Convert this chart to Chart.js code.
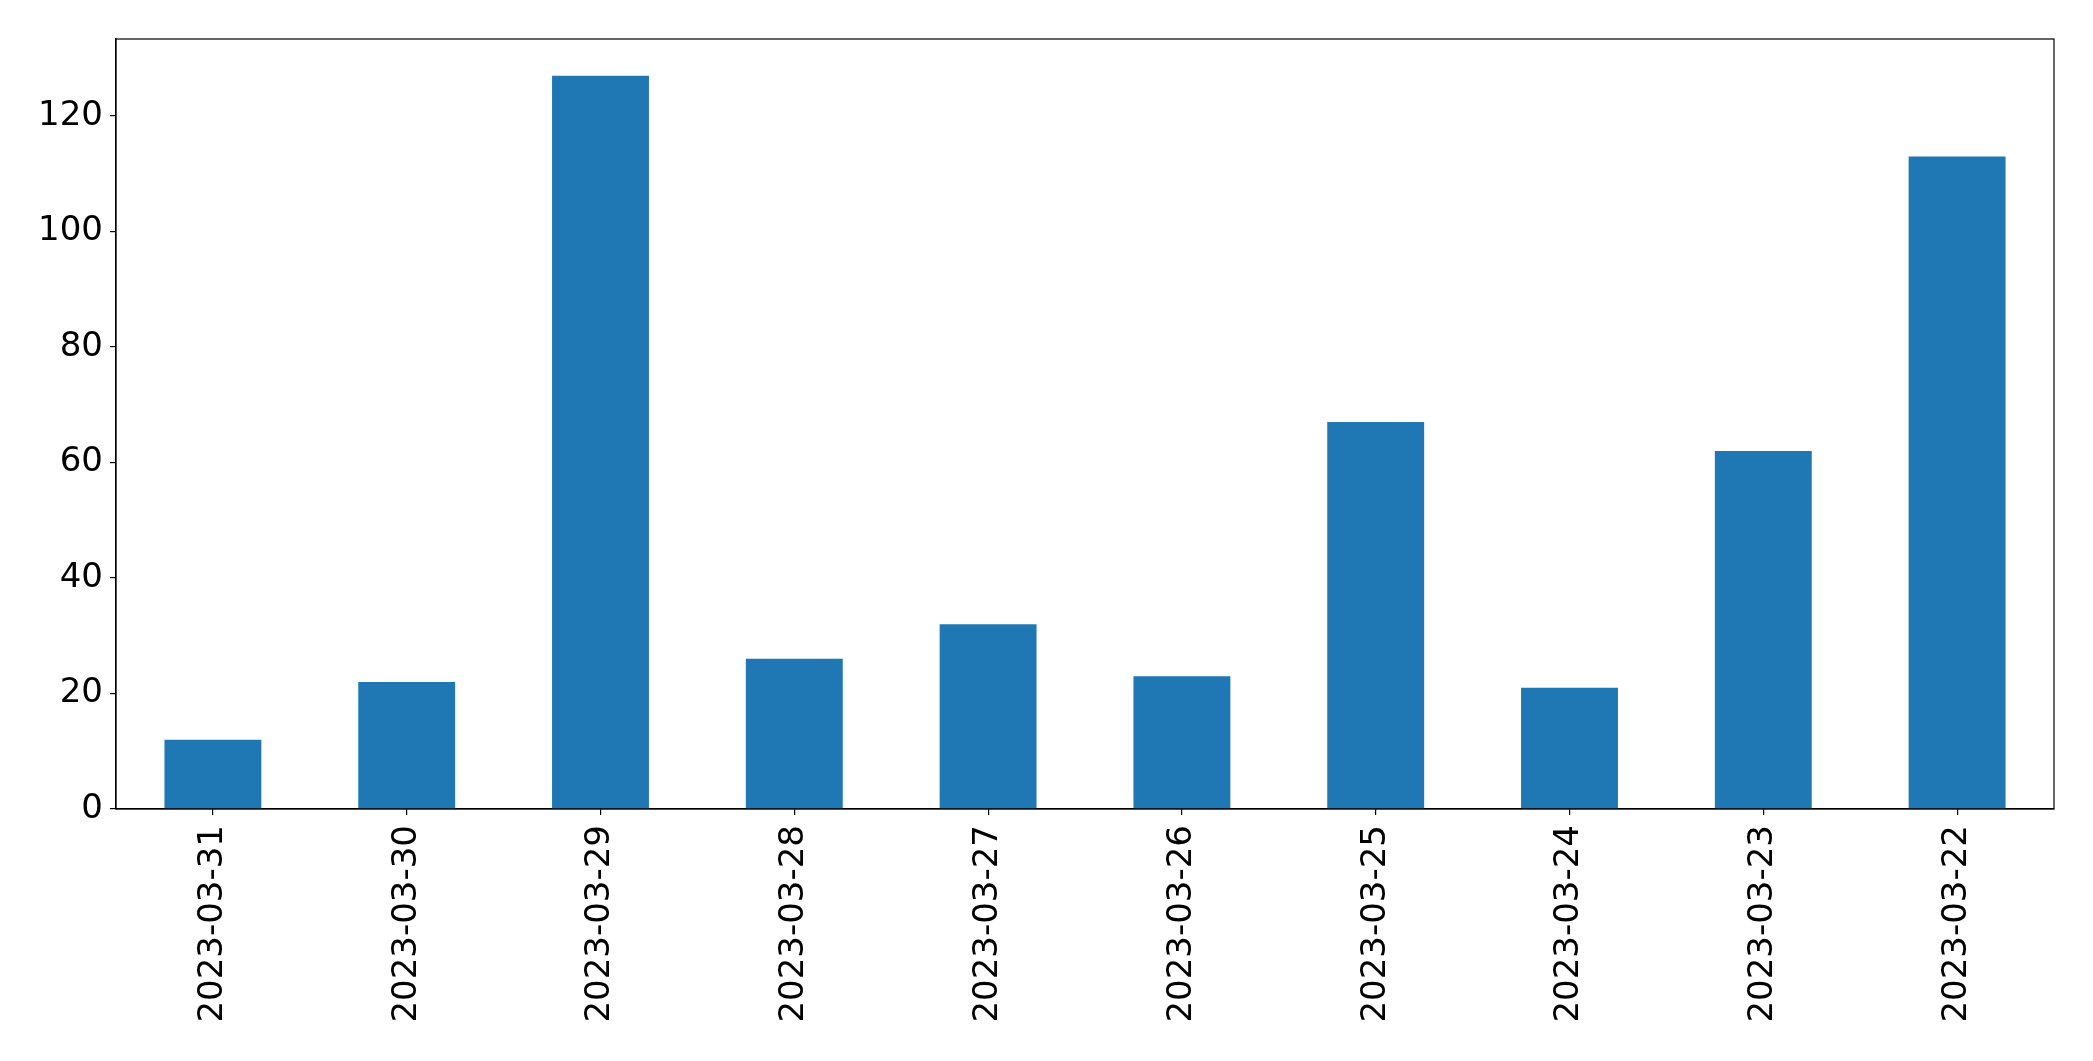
<!DOCTYPE html>
<html>
<head>
<meta charset="utf-8">
<script src="https://cdn.jsdelivr.net/npm/chart.js@4/dist/chart.umd.min.js"></script>
<style>
  html, body { margin: 0; padding: 0; background: #fff; }
  #wrap { width: 2093px; height: 1061px; position: relative; }
</style>
</head>
<body>
<div id="wrap"><canvas id="c" width="2093" height="1061"></canvas></div>
<script>
const categories = ["2023-03-31","2023-03-30","2023-03-29","2023-03-28","2023-03-27","2023-03-26","2023-03-25","2023-03-24","2023-03-23","2023-03-22"];
const values = [12, 22, 127, 26, 32, 23, 67, 21, 62, 113];
const yTicks = [0, 20, 40, 60, 80, 100, 120];
const yMax = 133.35;

const frame = {
  id: 'frame',
  afterDraw(chart) {
    const {ctx, chartArea: a} = chart;
    ctx.save();
    ctx.strokeStyle = '#000';
    ctx.lineWidth = 1.2;
    ctx.strokeRect(a.left, a.top, a.right - a.left, a.bottom - a.top);
    ctx.restore();
  }
};

const font = { family: 'DejaVu Sans', size: 34 };

new Chart(document.getElementById('c'), {
  type: 'bar',
  data: {
    labels: categories,
    datasets: [{
      data: values,
      backgroundColor: '#1f77b4',
      borderWidth: 0,
      barPercentage: 0.5,
      categoryPercentage: 1.0
    }]
  },
  options: {
    responsive: false,
    animation: false,
    devicePixelRatio: 1,
    layout: { padding: { top: 39, right: 39, left: 0, bottom: 0 } },
    plugins: { legend: { display: false }, tooltip: { enabled: false } },
    scales: {
      x: {
        offset: true,
        grid: { display: true, offset: false, drawOnChartArea: false, drawTicks: true, tickLength: 6, color: '#000', lineWidth: 1.2 },
        border: { display: true, color: '#000', width: 1.2 },
        ticks: { color: '#000', font, maxRotation: 90, minRotation: 90, padding: 10, autoSkip: false },
        afterFit(s) { s.height = 1061 - 809; }
      },
      y: {
        min: 0,
        max: yMax,
        grid: { display: true, drawOnChartArea: false, drawTicks: true, tickLength: 6, color: '#000', lineWidth: 1.2 },
        border: { display: true, color: '#000', width: 1.2 },
        ticks: { color: '#000', font, padding: 7 },
        afterBuildTicks(s) { s.ticks = yTicks.map(v => ({ value: v })); },
        afterFit(s) { s.width = 116; }
      }
    }
  },
  plugins: [frame]
});
</script>
</body>
</html>
